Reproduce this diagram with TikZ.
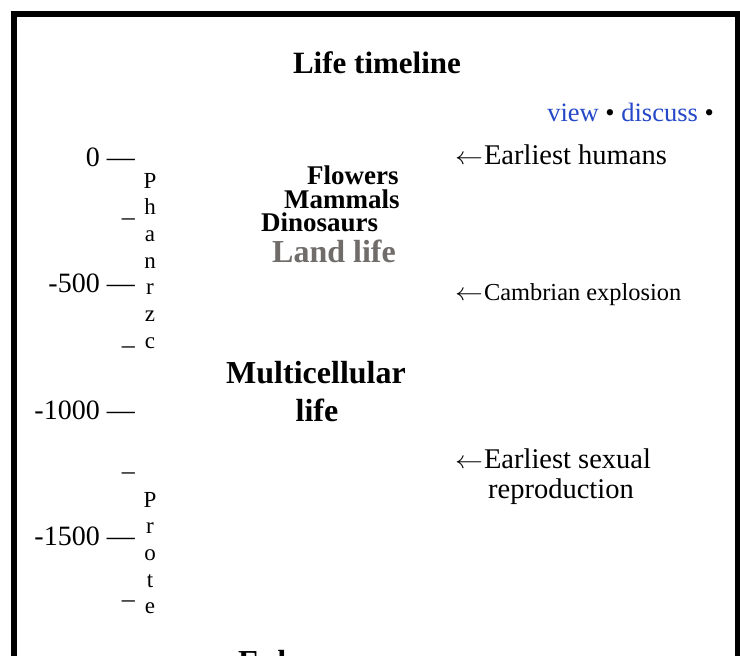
\documentclass[tikz,border=0pt]{standalone}
\usepackage{graphicx}
\usepackage{fontspec}
\setmainfont{Liberation Serif}
\definecolor{linkblue}{RGB}{36,72,200}
\definecolor{landgrey}{RGB}{112,108,106}
\newcommand{\evtarrow}{{\fontsize{28.5}{32}\selectfont\scalebox{1.12}[1]{$\leftarrow$}}}
\begin{document}
\begin{tikzpicture}[x=1pt,y=-1pt,
  titletext/.style={anchor=base, inner sep=0pt, font=\fontsize{31}{36}\selectfont\bfseries},
  linktext/.style={anchor=base east, inner sep=0pt, font=\fontsize{26.5}{30}\selectfont},
  ticklab/.style={anchor=base east, inner sep=0pt, font=\fontsize{28}{32}\selectfont},
  minortick/.style={anchor=base east, inner sep=0pt, font=\fontsize{26}{30}\selectfont},
  eraletter/.style={anchor=base, inner sep=0pt, font=\fontsize{23}{27}\selectfont},
  evt/.style={anchor=base west, inner sep=0pt, font=\fontsize{28.5}{32}\selectfont},
  grpsmall/.style={anchor=base west, inner sep=0pt, font=\fontsize{27}{30}\selectfont\bfseries},
  grpbig/.style={anchor=base, inner sep=0pt, font=\fontsize{32}{36}\selectfont\bfseries},
  frameline/.style={line width=6pt}]
\useasboundingbox (0,0) rectangle (740,656);
\fill[white] (0,0) rectangle (740,656);
\draw[frameline] (14,700) -- (14,14) -- (738,14) -- (738,700);

\node[titletext] (title) at (377,73) {Life timeline};
\node[linktext] (links) at (714,121) {\textcolor{linkblue}{view} • \textcolor{linkblue}{discuss} •};

\node[ticklab] (t0) at (135,166) {0 —};
\node[ticklab] (t500) at (135,292) {-500 —};
\node[ticklab] (t1000) at (135,419) {-1000 —};
\node[ticklab] (t1500) at (135,545) {-1500 —};
\node[minortick] (m250) at (135,225) {–};
\node[minortick] (m750) at (135,353) {–};
\node[minortick] (m1250) at (135,479) {–};
\node[minortick] (m1750) at (135,607) {–};

\foreach \ch [count=\i] in {P,h,a,n,r,z,c}
  \node[eraletter] (ph\i) at ({150},{188+(\i-1)*26.7}) {\ch};
\foreach \ch [count=\i] in {P,r,o,t,e}
  \node[eraletter] (pr\i) at ({150},{507+(\i-1)*26.7}) {\ch};

\node[evt] (humans) at (455,164) {\evtarrow\kern1pt Earliest humans};
\node[evt] (cambrian) at (455,300) {\evtarrow\kern1pt{\fontsize{24.4}{28}\selectfont Cambrian explosion}};
\node[evt] (sexual) at (455,468) {\evtarrow\kern1pt Earliest sexual};
\node[evt] (repro) at (488,498) {reproduction};

\node[grpsmall] (flowers) at (307,184) {Flowers};
\node[grpsmall] (mammals) at (284,208) {Mammals};
\node[grpsmall] (dinos) at (261,231) {Dinosaurs};
\node[grpbig, anchor=base west, text=landgrey] (land) at (272,262) {Land life};
\node[grpbig] (multi) at (316,383) {Multicellular};
\node[grpbig] (multi2) at (317,421) {life};
\node[grpbig, anchor=base west] (euk) at (238,672) {Euk};
\end{tikzpicture}
\end{document}
